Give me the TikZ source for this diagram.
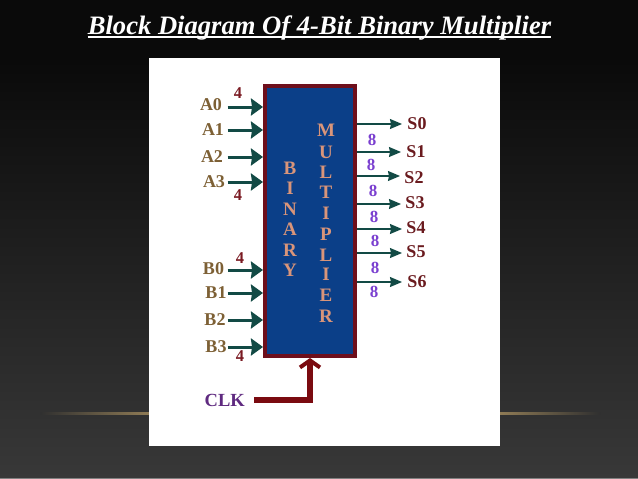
\documentclass[tikz,border=0pt]{standalone}
\usepackage{fontspec}
\setmainfont{Liberation Serif}
\usetikzlibrary{arrows.meta}
\definecolor{slidetop}{HTML}{0A0A0A}
\definecolor{slidebot}{HTML}{383838}
\definecolor{glowgold}{HTML}{8F7B55}
\definecolor{blockblue}{HTML}{0B3F88}
\definecolor{blockedge}{HTML}{6E0F1C}
\definecolor{pinteal}{HTML}{124A45}
\definecolor{pinbrown}{HTML}{7D6035}
\definecolor{outred}{HTML}{6A1A1E}
\definecolor{fourred}{HTML}{7A1A22}
\definecolor{eightpurple}{HTML}{7A3FD0}
\definecolor{clkpurple}{HTML}{5F2A80}
\definecolor{clkred}{HTML}{7A0A10}
\definecolor{letterpink}{HTML}{D9957A}
\tikzset{
  lettertext/.style={font=\fontsize{19}{19}\selectfont\bfseries, text=letterpink, inner sep=0pt},
  pinlabel/.style={font=\fontsize{18}{18}\selectfont\bfseries, text=pinbrown, inner sep=0pt},
  outlabel/.style={font=\fontsize{18}{18}\selectfont\bfseries, text=outred, inner sep=0pt},
  fourlabel/.style={font=\fontsize{16.5}{16.5}\selectfont\bfseries, text=fourred, inner sep=0pt},
  eightlabel/.style={font=\fontsize{17}{17}\selectfont\bfseries, text=eightpurple, inner sep=0pt},
  inarrow/.style={draw=pinteal, line width=3pt, -{Stealth[length=12pt,width=17pt,inset=1pt]}},
  outarrow/.style={draw=pinteal, line width=1.1pt, -{Stealth[length=12pt,width=10pt,inset=1pt]}},
  clkarrow/.style={draw=clkred, line width=5.5pt, -{Straight Barb[length=7pt,width=20pt,line width=4pt]}}
}
\begin{document}
\begin{tikzpicture}[x=1pt,y=-1pt]
\useasboundingbox (0,0) rectangle (638,479);
\fill[slidetop] (0,0) rectangle (638,61);
\shade[top color=slidetop, bottom color=slidebot] (0,60) rectangle (638,478);
\fill[gray] (0,478) rectangle (638,479);
\shade[left color=slidebot!85!black, right color=glowgold] (40,412.8) rectangle (149,414.2);
\shade[left color=glowgold, right color=slidebot!85!black] (500,412.8) rectangle (600,414.2);
\fill[white] (149,58) rectangle (500,446);

\node[font=\fontsize{26.6}{26.6}\selectfont\bfseries\itshape, text=white, inner sep=0pt] (title) at (319.5,28.5) {Block Diagram Of 4-Bit Binary Multiplier};
\draw[white, line width=1.3pt] ([yshift=-2pt]title.base west) -- ([yshift=-2pt]title.base east);

\node[draw=blockedge, fill=blockblue, line width=4pt, minimum width=90pt, minimum height=270pt, inner sep=0pt] (block) at (310,221) {};

\foreach \c/\yy [count=\k] in {B/168,I/188,N/209,A/229,R/250,Y/270}
  \node[lettertext] (bin\k) at (290,\yy) {\c};
\foreach \c/\yy [count=\k] in {M/130,U/152,L/172,T/192,I/213,P/234,L/255,I/274,E/295,R/316}
  \node[lettertext] (mul\k) at (326,\yy) {\c};

\foreach \n/\lx/\ly/\yy in {A0/211/105/107,A1/213/130/130,A2/212/157/157,A3/214/182/182,B0/213.5/269/270,B1/216/293/293,B2/215/320/320,B3/216/347/347} {
  \node[pinlabel] (\n) at (\lx,\ly) {\n};
  \coordinate (\n tail) at (227.5,\yy);
  \draw[inarrow] (\n tail) -- (\n tail -| block.west);
}
\foreach \n/\lx/\ly/\yy/\xx in {S0/417/124/124/402,S1/416/152/152/401,S2/414/178/176/400,S3/415/203/204/401,S4/416/228/229/402,S5/416/252/253/402,S6/417/282/282/402} {
  \node[outlabel] (\n) at (\lx,\ly) {\n};
  \coordinate (\n tip) at (\xx,\yy);
  \draw[outarrow] (\n tip -| block.east) -- (\n tip);
}
\foreach \xx/\yy [count=\k] in {238/93,238/195,240/258,240/356}
  \node[fourlabel] (four\k) at (\xx,\yy) {4};
\foreach \xx/\yy [count=\k] in {372/140,371/165,373/191,374/217,375/241,375/268,374/292}
  \node[eightlabel] (eight\k) at (\xx,\yy) {8};

\node[font=\fontsize{18.5}{18.5}\selectfont\bfseries, text=clkpurple, anchor=east, inner xsep=9pt, inner ysep=0pt] (clk) at (254,400) {CLK};
\draw[clkarrow] (clk.east) -- (clk.east -| block.south) -- (block.south);
\end{tikzpicture}
\end{document}
